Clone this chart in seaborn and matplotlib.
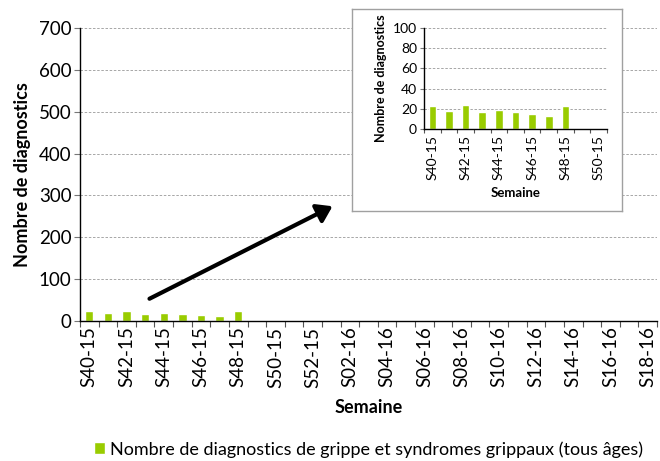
import matplotlib
matplotlib.use("Agg")
import matplotlib.pyplot as plt
import seaborn as sns
import pandas as pd
import numpy as np

weeks_all = [f"S{w}-15" for w in range(40, 53)] + [f"S{w:02d}-16" for w in range(1, 19)]
weeks_data = ["S40-15", "S41-15", "S42-15", "S43-15", "S44-15", "S45-15", "S46-15", "S47-15", "S48-15"]
values = [23, 18, 24, 17, 19, 17, 15, 13, 23]
inset_weeks = [f"S{w}-15" for w in range(40, 51)]
series_name = "Nombre de diagnostics de grippe et syndromes grippaux (tous âges)"

sns.set_style("white")
plt.rcParams['font.family'] = ['Lato', 'DejaVu Sans']
for k in ["text.color", "axes.labelcolor", "xtick.color", "ytick.color"]:
    plt.rcParams[k] = "black"

GREEN = "#99CC00"
df = pd.DataFrame({"semaine": weeks_data, "n": values})

fig = plt.figure(figsize=(6.6, 4.61), dpi=100)

def style_axes(ax, order, ymax, ystep, fs_tick):
    ax.set_xlim(-0.5, len(order) - 0.5)
    ax.set_ylim(0, ymax)
    ax.set_yticks(np.arange(0, ymax + 1, ystep))
    ax.yaxis.grid(True, color="#999999", linestyle=(0, (3, 2)), linewidth=0.6)
    ax.xaxis.grid(False)
    ax.set_axisbelow(True)
    for s in ["top", "right"]:
        ax.spines[s].set_visible(False)
    for s in ["left", "bottom"]:
        ax.spines[s].set_color("black")
        ax.spines[s].set_linewidth(1.0)
    ax.set_xticks(np.arange(len(order)), minor=False)
    ax.set_xticklabels([lab if i % 2 == 0 else "" for i, lab in enumerate(order)],
                       rotation=90, fontsize=fs_tick)
    ax.tick_params(axis="x", which="major", length=0, pad=4)
    ax.set_xticks(np.arange(len(order) + 1) - 0.5, minor=True)
    ax.tick_params(axis="x", which="minor", length=4, width=0.8, color="#555555", direction="out", bottom=True)
    ax.tick_params(axis="y", length=4, width=0.8, color="#777777", direction="out", left=True,
                   labelsize=fs_tick, pad=2)

# main axes
ax = fig.add_axes([80/660, 1-321/461, 577/660, 293/461])
sns.barplot(data=df, x="semaine", y="n", order=weeks_all, color=GREEN, width=0.45,
            saturation=1, ax=ax, label=series_name)
style_axes(ax, weeks_all, 700, 100, 13.5)
ax.set_xlabel("Semaine", fontsize=13, fontweight="bold", labelpad=8)
ax.set_ylabel("Nombre de diagnostics", fontsize=13, fontweight="bold", labelpad=6)
ax.legend(loc="upper center", bbox_to_anchor=(0.5, -0.385), frameon=False, fontsize=13,
          handlelength=0.6, handleheight=0.6, handletextpad=0.3, borderaxespad=0)

# inset box
box = fig.add_axes([352/660, 1-211/461, 270/660, 202/461])
box.set_xticks([]); box.set_yticks([])
box.set_facecolor("white")
for s in box.spines.values():
    s.set_color("#A0A0A0"); s.set_linewidth(1.0)
box.set_zorder(2)

ins = fig.add_axes([424/660, 1-129/461, 183/660, 101/461])
ins.set_zorder(3)
ins.patch.set_alpha(0)
sns.barplot(data=df, x="semaine", y="n", order=inset_weeks, color=GREEN, width=0.45,
            saturation=1, ax=ins)
style_axes(ins, inset_weeks, 100, 20, 10)
ins.tick_params(axis="x", which="minor", length=3)
ins.tick_params(axis="y", length=3)
ins.set_xlabel("Semaine", fontsize=9.5, fontweight="bold", labelpad=5)
ins.set_ylabel("Nombre de diagnostics", fontsize=9, fontweight="bold", labelpad=4)

# arrow
fig.add_artist(matplotlib.patches.FancyArrowPatch(
    (147/660, 1-300/461), (335/660, 1-205/461), transform=fig.transFigure,
    arrowstyle="-|>,head_length=6,head_width=4", linewidth=3, color="black",
    mutation_scale=1.5, zorder=5))

fig.savefig("out.png", dpi=100)
